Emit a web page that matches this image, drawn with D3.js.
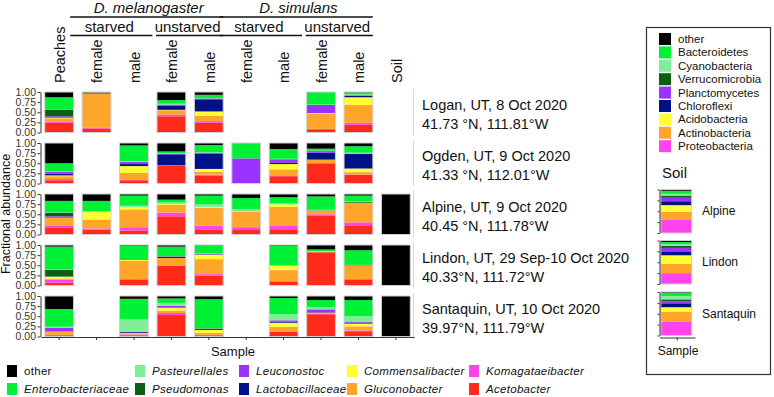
<!DOCTYPE html>
<html><head><meta charset="utf-8">
<script src="https://cdnjs.cloudflare.com/ajax/libs/d3/7.8.5/d3.min.js"></script>
<style>
html,body{margin:0;padding:0;background:#fff;}
svg{display:block;font-family:"Liberation Sans",Arial,sans-serif;}
</style></head><body>
<div id="chart"></div>
<script>
// ---------- data ----------
const samples = ["Peaches","mel_st_f","mel_st_m","mel_un_f","mel_un_m","sim_st_f","sim_st_m","sim_un_f","sim_un_m","Soil"];
const sampleLabels = ["Peaches","female","male","female","male","female","male","female","male","Soil"];
const species = ["D. melanogaster","D. simulans"];
const treatments = ["starved","unstarved","starved","unstarved"];

// stacking order: bottom -> top
const genera = ["Acetobacter","Komagataeibacter","Gluconobacter","Commensalibacter","Lactobacillaceae","Leuconostoc","Pseudomonas","Pasteurellales","Enterobacteriaceae","other"];
const genusColors = ["#ff2a1a","#ff44ee","#ffa52a","#ffff33","#001188","#9933ff","#0b5e13","#80ee99","#00f035","#000000"];

const sites = ["Logan","Ogden","Alpine","Lindon","Santaquin"];
const siteLine1 = ["Logan, UT, 8 Oct 2020","Ogden, UT, 9 Oct 2020","Alpine, UT, 9 Oct 2020","Lindon, UT, 29 Sep-10 Oct 2020","Santaquin, UT, 10 Oct 2020"];
const siteLine2 = ["41.73 °N, 111.81°W","41.33 °N, 112.01°W","40.45 °N, 111.78°W","40.33°N, 111.72°W","39.97°N, 111.79°W"];

const logan = [
  [0.24,0.02,0.09,0.01,0.01,0.03,0.17,0.01,0.29,0.13],
  [0.10,0.02,0.83,0,0.01,0.02,0,0,0.01,0.01],
  null,
  [0.40,0.04,0.11,0.01,0.10,0.03,0,0.02,0.09,0.20],
  [0.24,0.04,0.13,0.11,0.30,0.02,0,0.01,0.08,0.07],
  null,
  null,
  [0.08,0.01,0.38,0.01,0,0.20,0,0.01,0.31,0],
  [0.19,0.05,0.44,0.19,0.04,0.01,0,0.02,0.05,0.01],
  null
];
const ogden = [
  [0.08,0.03,0.07,0.02,0.04,0.05,0,0.01,0.20,0.50],
  null,
  [0.08,0.01,0.17,0.17,0.05,0.05,0,0.02,0.39,0.06],
  [0.44,0.01,0,0,0.27,0.01,0,0.01,0.05,0.21],
  [0.20,0.02,0.07,0.07,0.38,0.02,0,0.01,0.18,0.05],
  [0,0.01,0,0,0,0.61,0,0,0.38,0],
  [0.18,0.02,0.15,0.13,0.04,0.08,0,0.01,0.24,0.15],
  [0.50,0,0.09,0,0.17,0.04,0,0.01,0.05,0.14],
  [0.21,0.01,0.06,0.09,0.36,0.01,0,0.02,0.16,0.08],
  null
];
const alpine = [
  [0.16,0.05,0.21,0,0.01,0.02,0.09,0.01,0.28,0.17],
  [0.12,0.03,0.22,0.19,0,0,0,0.01,0.26,0.17],
  [0.10,0.08,0.44,0.06,0,0,0,0.03,0.25,0.04],
  [0.45,0.09,0.19,0.02,0,0,0,0.04,0.07,0.14],
  [0.11,0.11,0.44,0.02,0,0,0,0.06,0.22,0.04],
  [0.11,0.07,0.39,0.01,0,0,0.01,0.04,0.27,0.10],
  [0.13,0.08,0.47,0.06,0,0,0,0.03,0.15,0.08],
  [0.46,0.04,0.08,0.01,0,0,0.01,0.01,0.33,0.06],
  [0.21,0.09,0.48,0,0,0,0.02,0.02,0.14,0.04],
  [0,0,0,0,0,0,0,0,0.01,0.99]
];
const lindon = [
  [0.07,0.07,0.03,0.05,0,0,0.17,0.01,0.56,0.04],
  null,
  [0.15,0.01,0.45,0.02,0,0,0,0,0.35,0.02],
  [0.49,0.01,0.18,0,0.03,0.01,0,0,0.24,0.04],
  [0.24,0.04,0.37,0.11,0.01,0.02,0,0.01,0.19,0.01],
  null,
  [0.09,0.02,0.27,0.10,0,0,0,0.02,0.48,0.02],
  [0.82,0,0.02,0,0,0,0,0.01,0.04,0.11],
  [0.15,0.01,0.34,0,0,0,0.01,0,0.36,0.13],
  [0,0,0,0,0,0,0,0,0.01,0.99]
];
const santaquin = [
  [0.03,0.01,0.07,0.01,0,0.09,0,0.03,0.44,0.32],
  null,
  [0.03,0.02,0.03,0.01,0.02,0.01,0,0.30,0.51,0.07],
  [0.53,0.05,0.06,0.07,0.01,0.04,0,0.07,0.11,0.06],
  [0.03,0.01,0.05,0.07,0,0,0.04,0.01,0.71,0.08],
  null,
  [0.12,0.01,0.11,0.10,0.03,0.03,0,0.15,0.40,0.05],
  [0.55,0.01,0.03,0,0.01,0.07,0,0.06,0.17,0.10],
  [0.13,0.02,0.10,0.07,0.02,0.03,0,0.13,0.40,0.10],
  [0,0,0,0,0,0,0,0,0.01,0.99]
];
const siteValues = [logan, ogden, alpine, lindon, santaquin];

// soil inset (phyla), bottom -> top
const phyla = ["Proteobacteria","Actinobacteria","Acidobacteria","Chloroflexi","Planctomycetes","Verrucomicrobia","Cyanobacteria","Bacteroidetes","other"];
const phylaColors = ["#ff44ee","#ffa52a","#ffff33","#001188","#9933ff","#0b5e13","#80ee99","#00f035","#000000"];
const soilSites = ["Alpine","Lindon","Santaquin"];
const soilAlpine = [0.30,0.19,0.15,0.09,0.08,0.05,0.04,0.07,0.03];
const soilLindon = [0.25,0.21,0.20,0.09,0.08,0.045,0.045,0.045,0.035];
const soilSantaquin = [0.32,0.23,0.10,0.09,0.045,0.045,0.075,0.075,0.02];
const soilValues = [soilAlpine, soilLindon, soilSantaquin];

const yTicks = [0,0.25,0.5,0.75,1];

// bottom legend order (column-major, as in figure)
const legendGenera = ["other","Enterobacteriaceae","Pasteurellales","Pseudomonas","Leuconostoc","Lactobacillaceae","Commensalibacter","Gluconobacter","Komagataeibacter","Acetobacter"];
// right legend order
const legendPhyla = ["other","Bacteroidetes","Cyanobacteria","Verrucomicrobia","Planctomycetes","Chloroflexi","Acidobacteria","Actinobacteria","Proteobacteria"];

// ---------- drawing ----------
const W = 774, H = 397;
const svg = d3.select("#chart").append("svg").attr("width", W).attr("height", H);

const genusColor = d3.scaleOrdinal().domain(genera).range(genusColors);
const phylumColor = d3.scaleOrdinal().domain(phyla).range(phylaColors);

const x = d3.scaleBand().domain(samples).range([41, 414]).paddingInner(0.23).paddingOuter(0.1);
const rowTop0 = 92, rowPitch = 51, rowH = 40.5;

const stack = d3.stack().keys(genera.map((g, i) => i));

sites.forEach((site, r) => {
  const top = rowTop0 + r * rowPitch;
  const y = d3.scaleLinear().domain([0, 1]).range([top + rowH, top]);
  const g = svg.append("g");

  // right separator line
  g.append("line").attr("x1", 413.5).attr("x2", 413.5).attr("y1", top - 3).attr("y2", top + rowH + 3)
    .attr("stroke", "#d8d8d8").attr("stroke-width", 1);

  const vals = siteValues[r];
  const present = samples.map((s, i) => ({ s, v: vals[i] })).filter(d => d.v);
  const series = stack(present.map(d => d.v));
  series.forEach((ser, k) => {
    g.append("g").attr("fill", genusColor(genera[k]))
      .selectAll("rect").data(ser.map((seg, j) => ({ seg, s: present[j].s })))
      .join("rect")
      .attr("x", d => x(d.s))
      .attr("width", x.bandwidth())
      .attr("y", d => y(d.seg[1]))
      .attr("height", d => Math.max(0, y(d.seg[0]) - y(d.seg[1])));
  });
  // outline
  g.append("g").selectAll("rect").data(present).join("rect")
    .attr("x", d => x(d.s)).attr("width", x.bandwidth())
    .attr("y", y(1)).attr("height", y(0) - y(1))
    .attr("fill", "none").attr("stroke", "#cfcfcf").attr("stroke-width", 1);

  // y axis
  const ax = g.append("g").attr("transform", "translate(40.5,0)")
    .call(d3.axisLeft(y).tickValues(yTicks).tickFormat(d3.format(".2f")).tickSize(3).tickSizeOuter(0));
  ax.select(".domain").attr("stroke", "#333");
  ax.selectAll(".tick line").attr("stroke", "#333");
  ax.selectAll(".tick text").attr("fill", "#333").style("font-size", "10.5px")
    .style("font-family", "'Liberation Sans', Arial, sans-serif").attr("x", -4.5);

  // site labels
  g.append("text").attr("x", 422).attr("y", top + 17.5).text(siteLine1[r])
    .style("font-size", "14.5px").attr("fill", "#111");
  g.append("text").attr("x", 422).attr("y", top + 37).text(siteLine2[r])
    .style("font-size", "14.5px").attr("fill", "#111");

  if (r === sites.length - 1) {
    const xa = svg.append("g").attr("transform", `translate(0,${top + rowH + 0.5})`)
      .call(d3.axisBottom(x).tickSize(3).tickSizeOuter(0).tickFormat(""));
    xa.select(".domain").attr("stroke", "#333");
    xa.selectAll(".tick line").attr("stroke", "#333");
  }
});

// y title
svg.append("text").attr("transform", "translate(10,214) rotate(-90)")
  .attr("text-anchor", "middle").style("font-size", "12.5px").attr("fill", "#111").text("Fractional abundance");
// x title
svg.append("text").attr("x", 233).attr("y", 356).attr("text-anchor", "middle")
  .style("font-size", "13px").attr("fill", "#111").text("Sample");

// column labels
svg.append("g").selectAll("text").data(samples).join("text")
  .attr("transform", d => `translate(${x(d) + x.bandwidth() / 2 + 0.5},83) rotate(-90)`)
  .attr("text-anchor", "start").attr("dy", "0.36em")
  .style("font-size", "14.5px").attr("fill", "#111")
  .text((d, i) => sampleLabels[i]);

// header groups
const groupRanges = [[1, 4], [5, 8]];
groupRanges.forEach((rg, i) => {
  const x0 = x(samples[rg[0]]) - 12, x1 = x(samples[rg[1]]) + x.bandwidth();
  svg.append("text").attr("x", (x0 + x1) / 2 + 2).attr("y", 13).attr("text-anchor", "middle")
    .style("font-size", "15px").style("font-style", "italic").attr("fill", "#111").text(species[i]);
  svg.append("line").attr("x1", x0).attr("x2", x1).attr("y1", 17).attr("y2", 17)
    .attr("stroke", "#111").attr("stroke-width", 1.3);
});
const treatRanges = [[1, 2], [3, 4], [5, 6], [7, 8]];
treatRanges.forEach((rg, i) => {
  const x0 = x(samples[rg[0]]) - (i % 2 === 0 ? 12 : 1), x1 = x(samples[rg[1]]) + x.bandwidth() + (i % 2 === 0 ? 4 : 0);
  svg.append("text").attr("x", (x0 + x1) / 2 - 2).attr("y", 32).attr("text-anchor", "middle")
    .style("font-size", "15px").attr("fill", "#111").text(treatments[i]);
  svg.append("line").attr("x1", x0).attr("x2", x1).attr("y1", 35.5).attr("y2", 35.5)
    .attr("stroke", "#111").attr("stroke-width", 1.3);
});

// bottom legend
const legX = [7, 135, 239, 347, 469];
const legG = svg.append("g");
legendGenera.forEach((gname, i) => {
  const col = Math.floor(i / 2), row = i % 2;
  const lx = legX[col], ly = 371 + row * 18;
  legG.append("rect").attr("x", lx).attr("y", ly - 6).attr("width", 10).attr("height", 12)
    .attr("fill", genusColor(gname));
  legG.append("text").attr("x", lx + 17).attr("y", ly + 4).text(gname)
    .style("font-size", "11.5px").style("font-style", gname === "other" ? "normal" : "italic")
    .style("letter-spacing", "0.3px").attr("fill", "#111");
});

// right box legend
svg.append("rect").attr("x", 646.5).attr("y", 27.5).attr("width", 124).attr("height", 347)
  .attr("fill", "none").attr("stroke", "#333").attr("stroke-width", 1.2);
legendPhyla.forEach((p, i) => {
  const ly = 39 + i * 13.4;
  svg.append("rect").attr("x", 659).attr("y", ly - 6).attr("width", 12).attr("height", 12)
    .attr("fill", phylumColor(p));
  svg.append("text").attr("x", 678).attr("y", ly + 4).text(p)
    .style("font-size", "11.5px").attr("fill", "#111");
});

// soil inset
svg.append("text").attr("x", 662).attr("y", 178).text("Soil").style("font-size", "15px").attr("fill", "#111");
const sx = d3.scaleBand().domain(["soil"]).range([659.5, 695]).paddingInner(0).paddingOuter(0.04);
const soilTops = [189.5, 240.5, 292];
const soilH = 43.5;
const pstack = d3.stack().keys(phyla.map((p, i) => i));
soilSites.forEach((s, k) => {
  const top = soilTops[k];
  const y = d3.scaleLinear().domain([0, 1]).range([top + soilH, top]);
  const ser = pstack([soilValues[k]]);
  ser.forEach((sr, j) => {
    svg.append("rect").attr("x", sx("soil")).attr("width", sx.bandwidth() - 2)
      .attr("y", y(sr[0][1])).attr("height", Math.max(0, y(sr[0][0]) - y(sr[0][1])))
      .attr("fill", phylumColor(phyla[j]));
  });
  svg.append("rect").attr("x", sx("soil")).attr("width", sx.bandwidth() - 2)
    .attr("y", y(1)).attr("height", y(0) - y(1)).attr("fill", "none").attr("stroke", "#cfcfcf");
  const ax = svg.append("g").attr("transform", "translate(659.5,0)")
    .call(d3.axisLeft(y).tickValues(yTicks).tickFormat("").tickSize(2).tickSizeOuter(0));
  ax.select(".domain").attr("stroke", "#333");
  ax.selectAll(".tick line").attr("stroke", "#333");
  svg.append("text").attr("x", 702).attr("y", top + soilH / 2 + 4).text(s)
    .style("font-size", "12px").attr("fill", "#111");
});
const sxa = svg.append("g").attr("transform", "translate(0,337.5)")
  .call(d3.axisBottom(sx).tickSize(3).tickSizeOuter(0).tickFormat(""));
sxa.select(".domain").attr("stroke", "#333");
sxa.selectAll(".tick line").attr("stroke", "#333");
svg.append("text").attr("x", 678).attr("y", 355).attr("text-anchor", "middle")
  .style("font-size", "12px").attr("fill", "#111").text("Sample");
</script>
</body></html>
